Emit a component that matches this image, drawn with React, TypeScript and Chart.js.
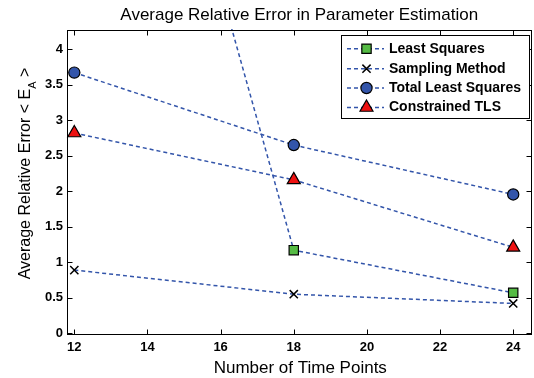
import React, { useEffect, useRef } from 'react';
import { Chart, registerables } from 'chart.js';
import { drawPoint } from 'chart.js/helpers';

Chart.register(...registerables);

const timePoints = [12, 18, 24];
const leastSquares = [12.2, 1.17, 0.57];
const samplingMethod = [0.89, 0.55, 0.42];
const totalLeastSquares = [3.67, 2.65, 1.955];
const constrainedTLS = [2.82, 2.16, 1.21];

const seriesNames = ['Least Squares', 'Sampling Method', 'Total Least Squares', 'Constrained TLS'];
const xTicks = [12, 14, 16, 18, 20, 22, 24];
const yTicks = [0, 0.5, 1, 1.5, 2, 2.5, 3, 3.5, 4];

const chartTitle = 'Average Relative Error in Parameter Estimation';
const xTitle = 'Number of Time Points';
const yTitleMain = 'Average Relative Error < E';
const yTitleSub = 'A';
const yTitleEnd = ' >';

const FONT = '"Liberation Sans", Arial, sans-serif';
const LINE = '#3355aa';

const styles = [
  { pointStyle: 'rect', radius: 6.6, bg: '#55bb44', border: '#000', bw: 1.2 },
  { pointStyle: 'crossRot', radius: 5.8, bg: '#000', border: '#000', bw: 1.5 },
  { pointStyle: 'circle', radius: 5.6, bg: '#3355aa', border: '#000', bw: 1.2 },
  { pointStyle: 'triangle', radius: 7.5, bg: '#ee1111', border: '#000', bw: 1.2 },
];

const seriesData = [leastSquares, samplingMethod, totalLeastSquares, constrainedTLS];

const decor = {
  id: 'decor',
  afterDraw(chart: any) {
    const { ctx, chartArea: a, scales } = chart;
    const xs = scales.x;
    const ys = scales.y;
    ctx.save();
    // frame
    ctx.strokeStyle = '#000';
    ctx.lineWidth = 1;
    ctx.setLineDash([]);
    const L = Math.round(a.left) + 0.5;
    const R = Math.round(a.right) - 0.5;
    const T = Math.round(a.top) + 0.5;
    const B = Math.round(a.bottom) + 0.5;
    ctx.strokeRect(L, T, R - L, B - T);
    // inner ticks
    ctx.beginPath();
    xTicks.forEach((v) => {
      const px = Math.round(xs.getPixelForValue(v)) + 0.5;
      ctx.moveTo(px, B);
      ctx.lineTo(px, B - 5);
      ctx.moveTo(px, T);
      ctx.lineTo(px, T + 5);
    });
    yTicks.forEach((v) => {
      const py = Math.round(ys.getPixelForValue(v)) + 0.5;
      ctx.moveTo(L, py);
      ctx.lineTo(L + 5, py);
      ctx.moveTo(R, py);
      ctx.lineTo(R - 5, py);
    });
    ctx.stroke();

    // titles
    ctx.fillStyle = '#000';
    ctx.font = `17px ${FONT}`;
    ctx.textAlign = 'center';
    ctx.textBaseline = 'alphabetic';
    ctx.fillText(chartTitle, (a.left + a.right) / 2, 19.5);
    ctx.fillText(xTitle, (a.left + a.right) / 2 + 1, 373);

    // y title with subscript
    ctx.save();
    ctx.translate(30, 0);
    ctx.rotate(-Math.PI / 2);
    ctx.textAlign = 'left';
    ctx.textBaseline = 'alphabetic';
    ctx.font = `16px ${FONT}`;
    const w1 = ctx.measureText(yTitleMain).width;
    const w3 = ctx.measureText(yTitleEnd).width;
    ctx.font = `11px ${FONT}`;
    const w2 = ctx.measureText(yTitleSub).width;
    const total = w1 + w2 + w3;
    const center = -173.5;
    let sx = center - total / 2;
    ctx.font = `16px ${FONT}`;
    ctx.fillText(yTitleMain, sx, 0);
    sx += w1;
    ctx.font = `11px ${FONT}`;
    ctx.fillText(yTitleSub, sx, 5.5);
    sx += w2;
    ctx.font = `16px ${FONT}`;
    ctx.fillText(yTitleEnd, sx, 0);
    ctx.restore();

    // legend
    const lx = 341, ly = 35, lw = 188, lh = 83;
    ctx.fillStyle = '#fff';
    ctx.fillRect(lx, ly, lw, lh);
    ctx.strokeStyle = '#000';
    ctx.lineWidth = 1;
    ctx.strokeRect(lx + 0.5, ly + 0.5, lw, lh);
    const rows = [48.7, 68.7, 88, 107.5];
    seriesNames.forEach((name, i) => {
      const y = rows[i];
      ctx.strokeStyle = LINE;
      ctx.lineWidth = 1.5;
      ctx.setLineDash([4, 3]);
      ctx.beginPath();
      ctx.moveTo(347, y);
      ctx.lineTo(384, y);
      ctx.stroke();
      ctx.setLineDash([]);
      const s = styles[i];
      ctx.fillStyle = s.bg;
      ctx.strokeStyle = s.border;
      ctx.lineWidth = s.bw;
      drawPoint(ctx, { pointStyle: s.pointStyle, radius: s.radius, rotation: 0, borderWidth: s.bw } as any, 366.5, y);
      ctx.fillStyle = '#000';
      ctx.font = `bold 14px ${FONT}`;
      ctx.textAlign = 'left';
      ctx.textBaseline = 'middle';
      ctx.fillText(name, 389, y);
    });
    ctx.restore();
  },
};

export default function App() {
  const ref = useRef<HTMLCanvasElement>(null);
  useEffect(() => {
    const canvas = ref.current;
    if (!canvas) return;
    const chart = new Chart(canvas, {
      type: 'line',
      data: {
        datasets: seriesNames.map((name, i) => ({
          label: name,
          data: timePoints.map((t, j) => ({ x: t, y: seriesData[i][j] })),
          borderColor: LINE,
          borderWidth: 1.5,
          borderDash: [4, 3],
          backgroundColor: styles[i].bg,
          pointStyle: styles[i].pointStyle as any,
          pointRadius: styles[i].radius,
          pointHoverRadius: styles[i].radius,
          pointBackgroundColor: styles[i].bg,
          pointBorderColor: styles[i].border,
          pointBorderWidth: styles[i].bw,
          fill: false,
          tension: 0,
          clip: 1,
        })),
      },
      plugins: [decor],
      options: {
        responsive: false,
        animation: false,
        layout: { autoPadding: false, padding: { top: 30, right: 2.5, left: 0, bottom: 0 } },
        plugins: {
          legend: { display: false },
          title: { display: false },
          tooltip: { enabled: false },
        },
        scales: {
          x: {
            type: 'linear',
            min: 11.8,
            max: 24.5,
            afterBuildTicks: (s: any) => { s.ticks = xTicks.map((v) => ({ value: v })); },
            afterFit: (s: any) => { s.height = 44; },
            grid: { display: true, drawOnChartArea: false, drawTicks: false, color: 'rgba(0,0,0,0)' },
            border: { display: false },
            ticks: {
              padding: 6,
              color: '#000',
              font: { family: FONT, size: 13, weight: 'bold' },
              maxRotation: 0,
              autoSkip: false,
            },
          },
          y: {
            type: 'linear',
            min: -0.01,
            max: 4.27,
            afterBuildTicks: (s: any) => { s.ticks = yTicks.map((v) => ({ value: v })); },
            afterFit: (s: any) => { s.width = 67; },
            grid: { display: true, drawOnChartArea: false, drawTicks: false, color: 'rgba(0,0,0,0)' },
            border: { display: false },
            ticks: {
              padding: 4,
              color: '#000',
              font: { family: FONT, size: 13, weight: 'bold' },
              autoSkip: false,
              callback: (v: any) => String(v),
            },
          },
        },
      },
    });
    return () => chart.destroy();
  }, []);
  return (
    <div style={{ position: 'absolute', left: 0, top: 0, width: 534, height: 378, background: '#fff' }}>
      <canvas ref={ref} width={534} height={378} style={{ width: 534, height: 378 }} />
    </div>
  );
}
